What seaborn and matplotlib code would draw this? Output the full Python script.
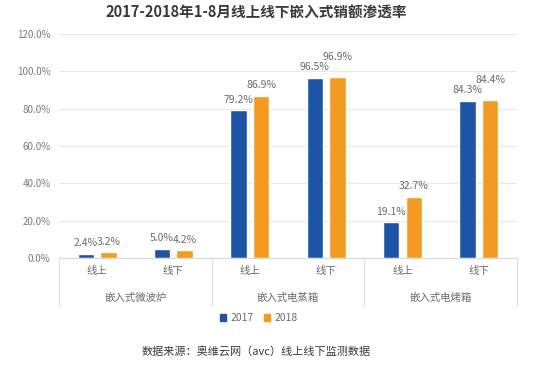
import numpy as np
import pandas as pd
import seaborn as sns
import matplotlib.pyplot as plt
from matplotlib.transforms import blended_transform_factory
from matplotlib.patches import Patch

# data
groups = ['嵌入式微波炉', '嵌入式电蒸箱', '嵌入式电烤箱']
channels = ['线上', '线下']
years = ['2017', '2018']
v2017 = [2.4, 5.0, 79.2, 96.5, 19.1, 84.3]
v2018 = [3.2, 4.2, 86.9, 96.9, 32.7, 84.4]

slots = [f'{g}|{c}' for g in groups for c in channels]
df = pd.DataFrame({
    'slot': slots * 2,
    'year': [years[0]] * 6 + [years[1]] * 6,
    'value': v2017 + v2018,
})

sns.set_style('white')
plt.rcParams['font.family'] = ['Noto Sans CJK SC', 'DejaVu Sans']

colors = {'2017': '#1E54A6', '2018': '#F29B20'}
text_gray = '#6b6b6b'

fig = plt.figure(figsize=(5.5, 3.66), dpi=100)
ax = fig.add_axes([0.107, 0.295, 0.833, 0.612])

sns.barplot(data=df, x='slot', y='value', hue='year', order=slots,
            hue_order=years, palette=colors, width=0.59, gap=0.27,
            saturation=1, legend=False, ax=ax)

# value labels (2018 label lifted a bit where it would collide with 2017)
for k, cont in enumerate(ax.containers):
    other = ax.containers[1 - k].datavalues
    for bar, v, o in zip(cont, cont.datavalues, other):
        lift = 7 if (k == 1 and abs(v - o) < 1 and v > 50) else 0
        ax.annotate(f'{v:.1f}%', (bar.get_x() + bar.get_width() / 2, v),
                    xytext=(0, 4 + lift), textcoords='offset points',
                    ha='center', va='bottom', fontsize=7.5, color=text_gray)

ax.set_ylim(0, 120)
ax.set_yticks(np.arange(0, 121, 20))
ax.set_yticklabels([f'{t:.1f}%' for t in np.arange(0, 121, 20)],
                   fontsize=7, color='#7a7a7a')
ax.yaxis.grid(True, color='#e8e8e8', lw=0.8)
ax.set_axisbelow(True)
ax.set_xlim(-0.5, 5.5)
for s in ['top', 'right', 'left']:
    ax.spines[s].set_visible(False)
ax.spines['bottom'].set_color('#d9d9d9')
ax.tick_params(axis='both', length=0)
ax.tick_params(axis='y', pad=6)
ax.set_xlabel('')
ax.set_ylabel('')

# two-level category axis
ax.set_xticks(range(6))
ax.set_xticklabels(channels * 3, fontsize=7.5, color=text_gray)
ax.tick_params(axis='x', pad=6)
trans = blended_transform_factory(ax.transData, ax.transAxes)
for i, g in enumerate(groups):
    ax.text(2 * i + 0.5, -0.18, g, transform=trans, ha='center', va='center',
            fontsize=7.5, color=text_gray)
for b in [-0.5, 1.5, 3.5, 5.5]:
    ax.plot([b, b], [0, -0.21], transform=trans, color='#dcdcdc', lw=0.8,
            clip_on=False)

# legend
handles = [Patch(color=colors[y], label=y) for y in years]
fig.legend(handles=handles, loc='center', bbox_to_anchor=(0.47, 0.131),
           ncol=2, frameon=False, fontsize=7.5, handlelength=0.6,
           handleheight=0.6, columnspacing=1.0, handletextpad=0.4,
           labelcolor=text_gray)

fig.text(0.466, 0.965, '2017-2018年1-8月线上线下嵌入式销额渗透率', ha='center',
         va='center', fontsize=10.5, fontweight='bold', color='#3a3a3a')
fig.text(0.465, 0.038, '数据来源：奥维云网（avc）线上线下监测数据', ha='center',
         va='center', fontsize=8, color='#3a3a3a')

fig.savefig('out.png', dpi=100)
